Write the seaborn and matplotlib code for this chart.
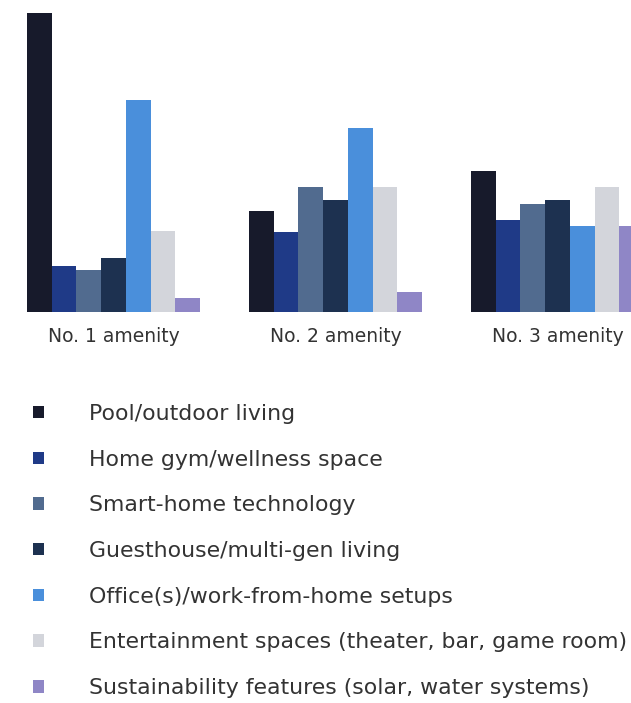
import pandas as pd
import matplotlib.pyplot as plt
import seaborn as sns
from matplotlib.patches import Patch

# share of respondents (approx)
ranks = ["No. 1 amenity", "No. 2 amenity", "No. 3 amenity"]
amenities = [
    "Pool/outdoor living",
    "Home gym/wellness space",
    "Smart-home technology",
    "Guesthouse/multi-gen living",
    "Office(s)/work-from-home setups",
    "Entertainment spaces (theater, bar, game room)",
    "Sustainability features (solar, water systems)",
]
pool = [57.0, 19.2, 26.9]
gym = [8.8, 15.3, 17.6]
smart = [8.0, 23.9, 20.5]
guest = [10.2, 21.4, 21.4]
office = [40.5, 35.0, 16.3]
entertain = [15.4, 23.9, 23.9]
sustain = [2.7, 3.8, 16.3]

colors = ["#171a2b", "#1f3a87", "#516b8f", "#1d3150", "#4a8fdb", "#d3d5db", "#8f86c6"]

series = [pool, gym, smart, guest, office, entertain, sustain]
rows = []
for name, vals in zip(amenities, series):
    for r, v in zip(ranks, vals):
        rows.append({"rank": r, "amenity": name, "share": v})
df = pd.DataFrame(rows)

sns.set_style("white")
plt.rcParams["font.family"] = ["DejaVu Sans"]

fig = plt.figure(figsize=(6.31, 7.03), dpi=100)
ax = fig.add_axes([0, (703 - 312) / 703, 1, 299 / 703])

sns.barplot(data=df, x="rank", y="share", hue="amenity", hue_order=amenities,
            palette=colors, width=0.78, saturation=1, linewidth=0, legend=False, ax=ax)

ax.set_ylim(0, 57)
ax.set_xlim(-0.511, 2.331)
ax.set_xlabel("")
ax.set_ylabel("")
ax.set_yticks([])
ax.tick_params(axis="x", length=0, pad=11, labelsize=13.5, labelcolor="#333333")
sns.despine(ax=ax, left=True, bottom=True)

handles = [Patch(facecolor=c, edgecolor="none") for c in colors]
fig.legend(handles, amenities, loc="upper left", bbox_to_anchor=(33 / 631, 1 - 404 / 703),
           frameon=False, fontsize=15.8, labelcolor="#333333",
           handlelength=0.5, handleheight=0.5, handletextpad=2.05,
           labelspacing=1.17, borderpad=0, borderaxespad=0)

fig.savefig("out.png", dpi=100, facecolor="white")
